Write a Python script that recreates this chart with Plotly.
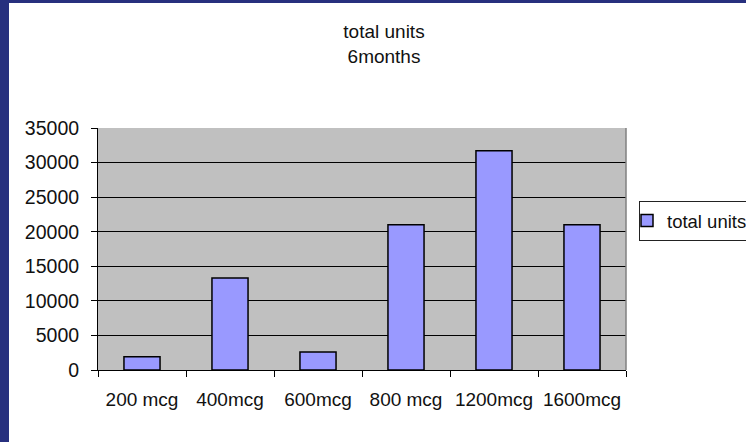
import plotly.graph_objects as go

# Data
doses = ["200 mcg", "400mcg", "600mcg", "800 mcg", "1200mcg", "1600mcg"]
total_units = [1900, 13300, 2600, 21000, 31700, 21000]
series_name = "total units"
chart_title = "total units<br>6months"
y_ticks = [0, 5000, 10000, 15000, 20000, 25000, 30000, 35000]
y_tick_labels = [str(v) for v in y_ticks]

W, H = 746, 442
L, R, T, B = 98, 120, 128, 72
pw, ph = W - L - R, H - T - B


def px_x(x):
    return (x - L) / pw


def px_y(y):
    return (H - B - y) / ph


FONT = "Liberation Sans, Arial, sans-serif"
NAVY = "#27307e"
TEXT = "#111111"

fig = go.Figure()
fig.add_trace(go.Bar(
    x=doses,
    y=total_units,
    name=series_name,
    marker=dict(color="#9999ff", line=dict(color="#000000", width=1.5)),
    showlegend=True,
))

fig.update_layout(
    width=W,
    height=H,
    margin=dict(l=L, r=R, t=T, b=B, autoexpand=False),
    paper_bgcolor="#ffffff",
    plot_bgcolor="#c0c0c0",
    bargap=0.59,
    font=dict(family=FONT, size=19, color=TEXT),
    title=dict(
        text=chart_title,
        x=px_x(384),
        xref="paper",
        xanchor="center",
        y=1 - 38 / H,
        yanchor="top",
        font=dict(family=FONT, size=19, color=TEXT),
    ),
    legend=dict(
        x=px_x(639),
        xanchor="left",
        y=px_y(221),
        yanchor="middle",
        indentation=-13,
        bgcolor="#ffffff",
        bordercolor="#222222",
        borderwidth=1,
        font=dict(family=FONT, size=18.5, color=TEXT),
    ),
    xaxis=dict(
        type="category",
        tickson="boundaries",
        ticks="outside",
        ticklen=6,
        tickcolor="#000000",
        tickangle=0,
        showline=True,
        linecolor="#000000",
        linewidth=1,
        showgrid=False,
        ticklabelstandoff=12,
        tickfont=dict(family=FONT, size=19, color=TEXT),
    ),
    yaxis=dict(
        range=[0, 35000],
        tickmode="array",
        tickvals=y_ticks,
        ticktext=y_tick_labels,
        ticks="outside",
        ticklen=6,
        tickcolor="#000000",
        showline=True,
        linecolor="#000000",
        linewidth=1,
        showgrid=True,
        gridcolor="#000000",
        gridwidth=1,
        zeroline=False,
        ticklabelstandoff=8,
        tickfont=dict(family=FONT, size=19.5, color=TEXT),
    ),
    shapes=[
        # plot-area right edge
        dict(type="line", xref="paper", yref="paper", x0=1, x1=1, y0=0, y1=1,
             line=dict(color="#808080", width=1.5), layer="above"),
        # slide frame: left and top bands
        dict(type="rect", xref="paper", yref="paper",
             x0=px_x(-2), x1=px_x(9), y0=px_y(H + 2), y1=px_y(-2),
             fillcolor=NAVY, line=dict(width=0), layer="above"),
        dict(type="rect", xref="paper", yref="paper",
             x0=px_x(-2), x1=px_x(W + 2), y0=px_y(3), y1=px_y(-2),
             fillcolor=NAVY, line=dict(width=0), layer="above"),
    ],
)

fig.write_html("out.html")
